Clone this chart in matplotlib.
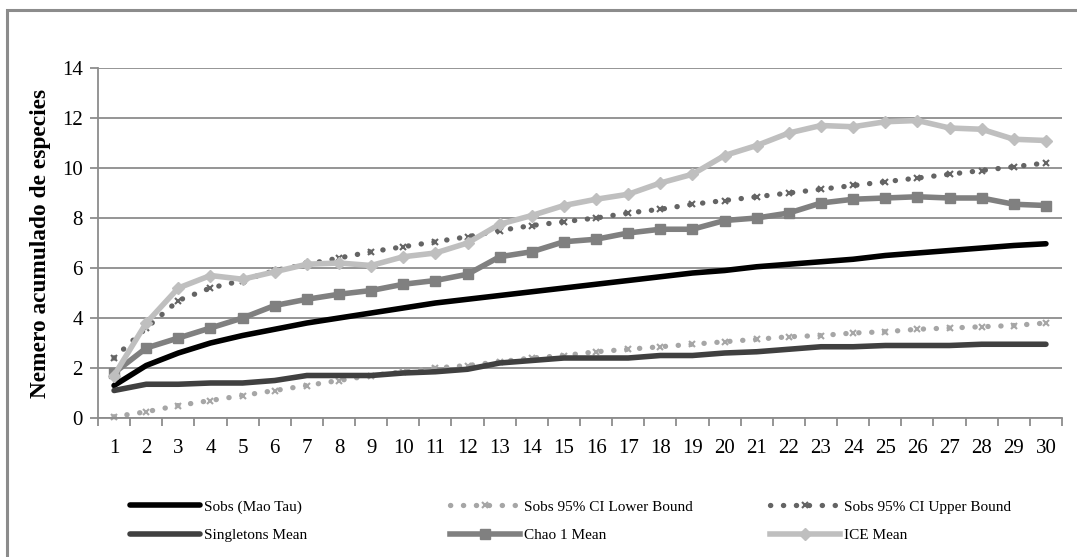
import matplotlib
matplotlib.use("Agg")
import matplotlib.pyplot as plt
from matplotlib.patches import Rectangle

plt.rcParams['font.family'] = ['Liberation Serif', 'DejaVu Serif']

samples = list(range(1, 31))
sobs = [1.3, 2.1, 2.6, 3.0, 3.3, 3.55, 3.8, 4.0, 4.2, 4.4, 4.6, 4.75, 4.9, 5.05, 5.2,
        5.35, 5.5, 5.65, 5.8, 5.9, 6.05, 6.15, 6.25, 6.35, 6.5, 6.6, 6.7, 6.8, 6.9, 6.97]
lower = [0.05, 0.25, 0.5, 0.7, 0.9, 1.1, 1.3, 1.5, 1.7, 1.85, 2.0, 2.1, 2.25, 2.4, 2.5,
         2.65, 2.75, 2.85, 2.95, 3.05, 3.15, 3.25, 3.3, 3.4, 3.45, 3.55, 3.6, 3.65, 3.7, 3.8]
upper = [2.4, 3.6, 4.7, 5.2, 5.5, 5.9, 6.15, 6.4, 6.65, 6.85, 7.05, 7.25, 7.5, 7.7, 7.85,
         8.0, 8.2, 8.35, 8.55, 8.7, 8.85, 9.0, 9.15, 9.3, 9.45, 9.6, 9.75, 9.9, 10.05, 10.2]
singletons = [1.1, 1.35, 1.35, 1.4, 1.4, 1.5, 1.7, 1.7, 1.7, 1.8, 1.85, 1.95, 2.2, 2.3, 2.4,
              2.4, 2.4, 2.5, 2.5, 2.6, 2.65, 2.75, 2.85, 2.85, 2.9, 2.9, 2.9, 2.95, 2.95, 2.95]
chao1 = [1.8, 2.8, 3.2, 3.6, 4.0, 4.5, 4.75, 4.95, 5.1, 5.35, 5.5, 5.75, 6.45, 6.65, 7.05,
         7.15, 7.4, 7.55, 7.55, 7.9, 8.0, 8.2, 8.6, 8.75, 8.8, 8.85, 8.8, 8.8, 8.55, 8.5]
ice = [1.7, 3.8, 5.2, 5.7, 5.55, 5.85, 6.15, 6.2, 6.1, 6.45, 6.6, 7.0, 7.75, 8.1, 8.5,
       8.75, 8.95, 9.4, 9.75, 10.5, 10.9, 11.4, 11.7, 11.65, 11.85, 11.9, 11.6, 11.55, 11.15, 11.1]
yticks = [0, 2, 4, 6, 8, 10, 12, 14]
ylabel = "Nemero acumulado de especies"

W, H = 1077, 557
fig = plt.figure(figsize=(W / 100, H / 100), dpi=100)
ax = fig.add_axes([98 / W, 1 - 418 / H, (1062 - 98) / W, (418 - 68) / H])

grid_c = '#8c8c8c'
ax.set_xlim(0.5, 30.5)
ax.set_ylim(0, 14)
ax.set_yticks(yticks)
ax.yaxis.grid(True, color=grid_c, linewidth=1.3)
ax.set_axisbelow(True)
ax.set_xticks(samples)
ax.set_xticks([i + 0.5 for i in range(0, 31)], minor=True)
ax.tick_params(axis='x', which='major', length=0, pad=15, labelsize=15)
ax.tick_params(axis='x', which='minor', length=6, width=1.3, color=grid_c, direction='out')
ax.tick_params(axis='y', length=6, width=1.3, color=grid_c, pad=5, labelsize=15)
for s in ['top', 'right']:
    ax.spines[s].set_visible(False)
for s in ['left', 'bottom']:
    ax.spines[s].set_color(grid_c)
    ax.spines[s].set_linewidth(1.3)
ax.set_ylabel(ylabel, fontsize=16.8, fontweight='bold', labelpad=8)

dot = dict(linestyle=(0, (0.05, 2.4)), dash_capstyle='round', linewidth=3.8)
h_sobs, = ax.plot(samples, sobs, color='#000000', linewidth=4, solid_capstyle='round',
                  label='Sobs (Mao Tau)')
h_low, = ax.plot(samples, lower, color='#a6a6a6', marker='x', markersize=4, mew=1.5,
                 label='Sobs 95% CI Lower Bound', **dot)
h_up, = ax.plot(samples, upper, color='#646464', marker='x', markersize=4, mew=1.5,
                label='Sobs 95% CI Upper Bound', **dot)
h_sing, = ax.plot(samples, singletons, color='#404040', linewidth=4, solid_capstyle='round',
                  label='Singletons Mean')
h_chao, = ax.plot(samples, chao1, color='#808080', linewidth=4, marker='s', markersize=7,
                  label='Chao 1 Mean')
h_ice, = ax.plot(samples, ice, color='#bfbfbf', linewidth=4, marker='D', markersize=6,
                 label='ICE Mean')
for h in [h_sobs, h_low, h_up, h_sing, h_chao, h_ice]:
    h.set_clip_on(False)

legend_cols = [([h_sobs, h_sing], 130), ([h_low, h_chao], 450), ([h_up, h_ice], 770)]
for hs, x0 in legend_cols:
    fig.legend(handles=hs, loc='upper left', bbox_to_anchor=(x0 / W, 1 - 500 / H),
               frameon=False, fontsize=11, handlelength=4.6, handletextpad=0.25,
               labelspacing=0.95, borderaxespad=0, borderpad=0)

fig.patches.append(Rectangle((7 / W, -0.05), 1.1, 1 - 10 / H + 0.05, transform=fig.transFigure,
                             fill=False, edgecolor='#8c8c8c', linewidth=2.2))

fig.savefig('out.png', dpi=100)
